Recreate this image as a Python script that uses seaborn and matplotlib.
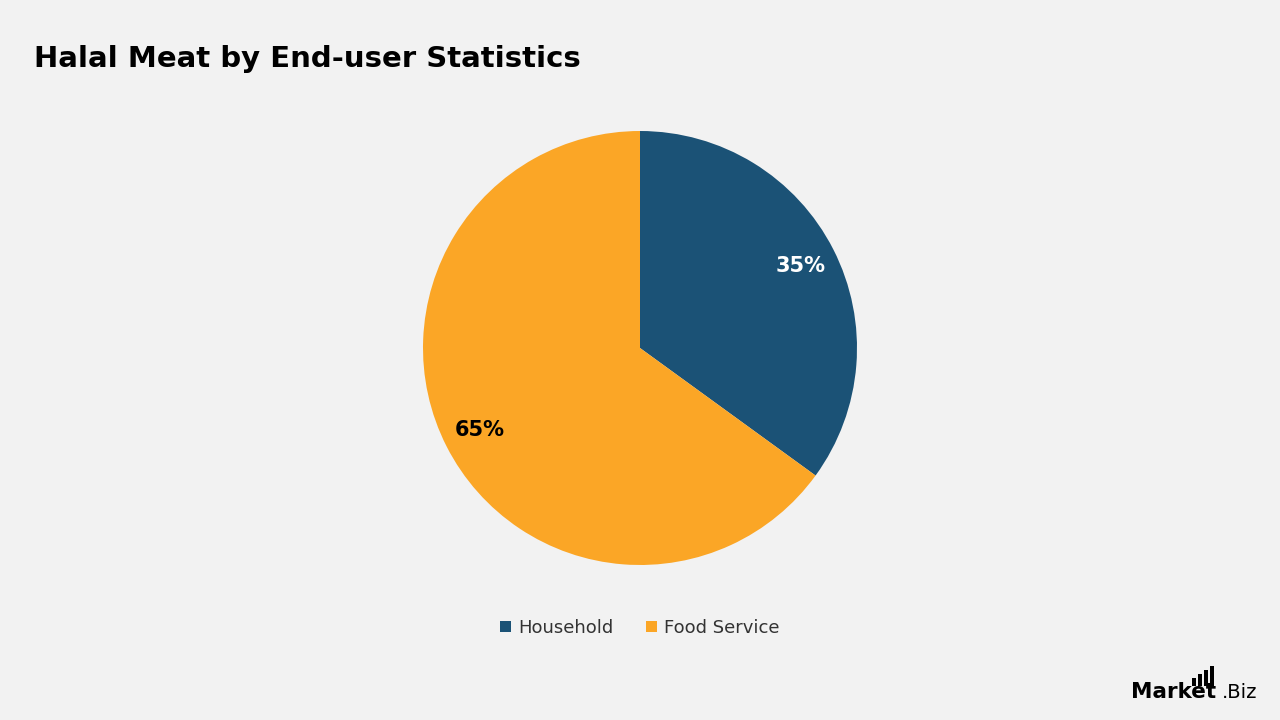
import matplotlib
matplotlib.use("Agg")
import matplotlib.pyplot as plt
import seaborn as sns
from matplotlib.patches import Patch, Rectangle

# data
categories = ["Household", "Food Service"]
shares = [35, 65]
colors = ["#1B5276", "#FBA626"]
label_colors = ["white", "black"]

sns.set_theme(style="white")
plt.rcParams['font.family'] = ['DejaVu Sans']

bg = "#F2F2F2"
fig = plt.figure(figsize=(12.8, 7.2), dpi=100, facecolor=bg)

# pie centred at (640, 348) px, radius ~217 px
r = 217
ax = fig.add_axes([(640 - r) / 1280, (720 - 348 - r) / 720, 2 * r / 1280, 2 * r / 720])
ax.set_facecolor(bg)
wedges, texts, autotexts = ax.pie(
    shares, colors=sns.color_palette(colors), startangle=90, counterclock=False,
    autopct=lambda p: f"{p:.0f}%", pctdistance=0.83, radius=1,
    wedgeprops=dict(linewidth=0))
for t, c in zip(autotexts, label_colors):
    t.set_color(c)
    t.set_fontsize(15)
    t.set_fontweight("bold")
ax.set_xlim(-1, 1)
ax.set_ylim(-1, 1)
ax.set_aspect("equal")
ax.axis("off")

# title
fig.text(34 / 1280, 1 - 59 / 720, "Halal Meat by End-user Statistics",
         fontsize=21, fontweight="heavy", color="black", va="center", ha="left")

# legend
handles = [Patch(facecolor=c, edgecolor="none") for c in colors]
fig.legend(handles, categories, loc="center", bbox_to_anchor=(0.5, 1 - 628 / 720),
           ncol=2, frameon=False, fontsize=13, handlelength=0.6, handleheight=0.6,
           handletextpad=0.4, columnspacing=1.8, labelcolor="#333333")

# logo
fig.text(1131 / 1280, 1 - 692 / 720, "Market", fontsize=15.5, fontweight="bold",
         color="black", ha="left", va="center")
fig.text(1257 / 1280, 1 - 692 / 720, ".Biz", fontsize=14, color="black",
         ha="right", va="center")
for i, h in enumerate([8, 12, 16, 20]):
    fig.patches.append(Rectangle(((1192 + i * 6) / 1280, (720 - 686) / 720),
                                 3.5 / 1280, h / 720, transform=fig.transFigure,
                                 facecolor="black", edgecolor="none"))

fig.savefig("out.png", dpi=100, facecolor=bg)
